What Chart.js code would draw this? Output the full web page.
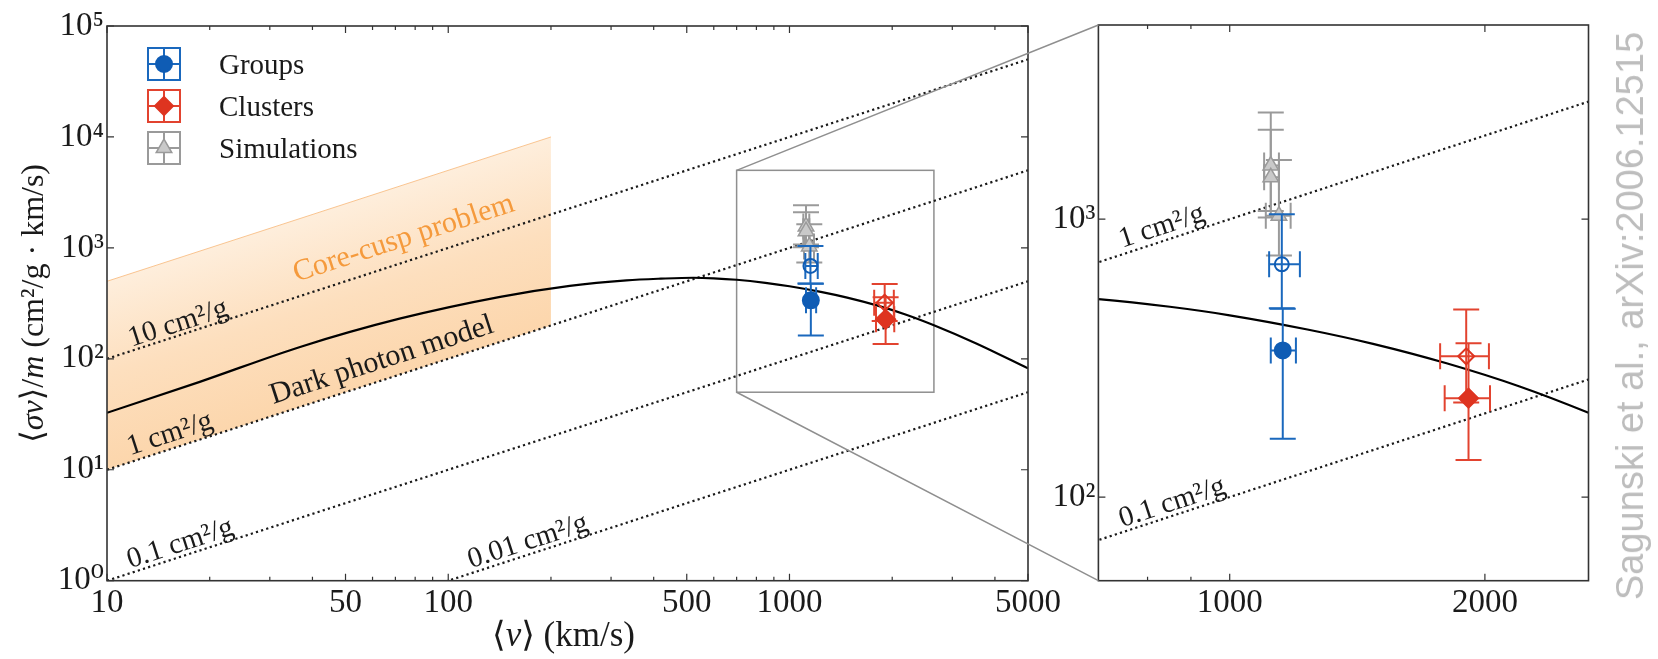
<!DOCTYPE html>
<html lang="en">
<head>
<meta charset="utf-8">
<title>Velocity-dependent self-interaction cross section</title>
<script src="https://cdn.jsdelivr.net/npm/chart.js@4.4.1/dist/chart.umd.min.js"></script>
<style>
  html, body { margin: 0; padding: 0; background: #fff; }
  body { position: relative; width: 1658px; height: 659px; overflow: hidden; }
  .panel { position: absolute; top: 0; }
  .panel canvas { display: block; }
  #leftPanel { left: 0; }
  #rightPanel { left: 1040px; }
  #links { position: absolute; left: 0; top: 0; pointer-events: none; }
  #credit {
    position: absolute; left: 1630px; top: 316px;
    transform: translate(-50%, -50%) rotate(-90deg);
    font: 38px 'Liberation Sans', Arial, sans-serif; line-height: 1;
    color: #bdbdbd; white-space: nowrap;
  }
</style>
</head>
<body>
<div class="panel" id="leftPanel"><canvas id="leftChart" width="1075" height="659"></canvas></div>
<div class="panel" id="rightPanel"><canvas id="rightChart" width="560" height="659"></canvas></div>
<canvas id="links" width="1658" height="659"></canvas>
<div id="credit">Sagunski et al., arXiv:2006.12515</div>
<script>
const SERIF = "'Liberation Serif', 'DejaVu Serif', serif";
const INK = '#1a1a1a';
const BLUE = '#0f5cb4';
const BLUE_BAR = '#1a68bd';
const RED = '#de3420';
const RED_BAR = '#e2432f';
const GREY = '#9a9a9a';
const GREY_FILL = '#c9c9c9';
const ORANGE = '#f59a3c';

// dark photon model, <sigma v>/m against <v>
const modelV = [10, 18.7, 36.8, 72, 142, 227, 333, 420, 523, 600, 700, 850, 1000, 1235, 1476, 1802, 2198, 2650, 3540, 5000];
const modelSigmaV = [32.6, 62, 128, 230, 362, 455, 510, 528, 538, 532, 516, 484, 451, 401, 356, 303, 250, 201, 137, 82];

// lines of constant sigma/m, end points at v = 10 and 5000 km/s
const refV = [10, 5000];
const ref10 = [100, 50000];
const ref1 = [10, 5000];
const ref01 = [1, 500];
const ref001 = [0.1, 50];

// core-cusp band
const bandV = [10, 200];
const bandTop = [500, 10000];
const bandBottom = [10, 200];

// groups
const groupV = [1155, 1152];
const groupSigmaV = [337, 688];
const groupVLow = [1118, 1113];
const groupVHigh = [1197, 1210];
const groupSigmaLow = [162, 478];
const groupSigmaHigh = [476, 1042];
const groupOpen = [false, true];

// clusters
const clusterV = [1913, 1901];
const clusterSigmaV = [227, 321];
const clusterVLow = [1793, 1771];
const clusterVHigh = [2028, 2022];
const clusterSigmaLow = [136, 219];
const clusterSigmaHigh = [358, 473];
const clusterOpen = [false, true];

// simulations
const simV = [1118, 1118, 1143];
const simSigmaV = [1560, 1415, 1030];
const simVLow = [1098, 1098, 1103];
const simVHigh = [1143, 1143, 1180];
const simSigmaLow = [1015, 1070, 740];
const simSigmaHigh = [2420, 2100, 1634];

// axes
const leftVRange = [10, 5000];
const leftSigmaRange = [1, 100000];
const zoomVRange = [700, 2650];
const zoomSigmaRange = [50, 5000];
const leftVLabels = [10, 50, 100, 500, 1000, 5000];
const leftVMinor = [20, 30, 40, 60, 70, 80, 90, 200, 300, 400, 600, 700, 800, 900, 2000, 3000, 4000];
const leftSigmaLabels = [1, 10, 100, 1000, 10000, 100000];
const zoomVLabels = [1000, 2000];
const zoomVMinor = [800, 900];
const zoomSigmaLabels = [100, 1000];

const SUP = ['⁰', '¹', '²', '³', '⁴', '⁵', '⁶'];
const pow10 = v => '10' + SUP[Math.round(Math.log10(v))];

function points(xs, ys) {
  return xs.map((x, i) => ({ x: x, y: ys[i] }));
}
function errPoints(xs, ys, xl, xh, yl, yh) {
  return xs.map((x, i) => ({ x: x, y: ys[i], xMin: xl[i], xMax: xh[i], yMin: yl[i], yMax: yh[i] }));
}

// band colour runs across the band, from the 1 cm2/g edge to the upper edge
function bandFill(c) {
  const chart = c.chart;
  if (!chart.chartArea || !chart.scales.x) return 'rgba(253,218,176,1)';
  const xs = chart.scales.x, ys = chart.scales.y;
  const x0 = xs.getPixelForValue(bandV[0]), y0 = ys.getPixelForValue(bandBottom[0]);
  const x1 = xs.getPixelForValue(bandV[1]), y1 = ys.getPixelForValue(bandBottom[1]);
  const L = Math.hypot(x1 - x0, y1 - y0);
  const nx = (y1 - y0) / L, ny = -(x1 - x0) / L;
  const d = (y0 - ys.getPixelForValue(bandTop[0])) * (x1 - x0) / L;
  const g = chart.ctx.createLinearGradient(x0, y0, x0 + nx * d, y0 + ny * d);
  g.addColorStop(0, 'rgb(252,214,172)');
  g.addColorStop(0.5, 'rgb(253,223,190)');
  g.addColorStop(1, 'rgb(254,238,220)');
  return g;
}

function makeDatasets(withBand) {
  const dotted = { showLine: true, borderColor: INK, borderWidth: 2.2, borderDash: [2.2, 3.2], pointRadius: 0 };
  const sets = [
    { label: 'Groups', data: errPoints(groupV, groupSigmaV, groupVLow, groupVHigh, groupSigmaLow, groupSigmaHigh),
      pointStyle: 'circle', pointRadius: groupOpen.map(o => o ? 7 : 8), pointBorderWidth: 2,
      pointBackgroundColor: groupOpen.map(o => o ? 'rgba(0,0,0,0)' : BLUE), pointBorderColor: BLUE,
      barColor: BLUE_BAR, legendFill: BLUE, legendRadius: 8 },
    { label: 'Clusters', data: errPoints(clusterV, clusterSigmaV, clusterVLow, clusterVHigh, clusterSigmaLow, clusterSigmaHigh),
      pointStyle: 'rectRot', pointRadius: clusterOpen.map(o => o ? 8 : 9.5), pointBorderWidth: 2,
      pointBackgroundColor: clusterOpen.map(o => o ? 'rgba(0,0,0,0)' : RED), pointBorderColor: RED,
      barColor: RED_BAR, legendFill: RED, legendRadius: 9 },
    { label: 'Simulations', data: errPoints(simV, simSigmaV, simVLow, simVHigh, simSigmaLow, simSigmaHigh),
      pointStyle: 'triangle', pointRadius: 9, pointBorderWidth: 1.5,
      pointBackgroundColor: GREY_FILL, pointBorderColor: GREY,
      barColor: GREY, legendFill: GREY_FILL, legendRadius: 9 },
    { label: 'Dark photon model', data: points(modelV, modelSigmaV), showLine: true, borderColor: '#000',
      borderWidth: 2.2, pointRadius: 0, cubicInterpolationMode: 'monotone' },
    Object.assign({ label: '10 cm²/g', data: points(refV, ref10) }, dotted),
    Object.assign({ label: '1 cm²/g', data: points(refV, ref1) }, dotted),
    Object.assign({ label: '0.1 cm²/g', data: points(refV, ref01) }, dotted),
    Object.assign({ label: '0.01 cm²/g', data: points(refV, ref001) }, dotted)
  ];
  if (withBand) {
    sets.push({ label: 'Core-cusp problem', data: points(bandV, bandTop), showLine: true,
      borderColor: 'rgba(246,175,105,0.7)', borderWidth: 1, pointRadius: 0, fill: '+1', backgroundColor: bandFill });
    sets.push({ label: 'band floor', data: points(bandV, bandBottom), showLine: true,
      borderWidth: 0, borderColor: 'rgba(0,0,0,0)', pointRadius: 0, fill: false });
  }
  return sets;
}

// error bars go in just before their markers
const errorBars = {
  id: 'errorBars',
  beforeDatasetDraw(chart, args) {
    const ds = chart.data.datasets[args.index];
    if (!ds.barColor) return;
    const { ctx, chartArea: a } = chart;
    const xs = chart.scales.x, ys = chart.scales.y;
    const cap = 13;
    ctx.save();
    ctx.beginPath();
    ctx.rect(a.left, a.top, a.right - a.left, a.bottom - a.top);
    ctx.clip();
    ctx.strokeStyle = ds.barColor;
    ctx.lineWidth = 2;
    ds.data.forEach(p => {
      const x = xs.getPixelForValue(p.x), y = ys.getPixelForValue(p.y);
      const x0 = xs.getPixelForValue(p.xMin), x1 = xs.getPixelForValue(p.xMax);
      const y0 = ys.getPixelForValue(p.yMin), y1 = ys.getPixelForValue(p.yMax);
      ctx.beginPath();
      ctx.moveTo(x0, y); ctx.lineTo(x1, y);
      ctx.moveTo(x, y0); ctx.lineTo(x, y1);
      ctx.moveTo(x0, y - cap); ctx.lineTo(x0, y + cap);
      ctx.moveTo(x1, y - cap); ctx.lineTo(x1, y + cap);
      ctx.moveTo(x - cap, y0); ctx.lineTo(x + cap, y0);
      ctx.moveTo(x - cap, y1); ctx.lineTo(x + cap, y1);
      ctx.stroke();
    });
    ctx.restore();
  }
};

// box round the plot with inward ticks on all four sides
const frame = {
  id: 'frame',
  afterDatasetsDraw(chart) {
    const { ctx, chartArea: a } = chart;
    const xs = chart.scales.x, ys = chart.scales.y;
    ctx.save();
    ctx.strokeStyle = '#333';
    ctx.lineWidth = 1.2;
    ctx.beginPath();
    xs.ticks.forEach(t => {
      const px = xs.getPixelForValue(t.value);
      const len = t.label ? 7 : 4;
      ctx.moveTo(px, a.bottom); ctx.lineTo(px, a.bottom - len);
      ctx.moveTo(px, a.top); ctx.lineTo(px, a.top + len);
    });
    ys.ticks.forEach(t => {
      const py = ys.getPixelForValue(t.value);
      const len = t.label ? 7 : 4;
      ctx.moveTo(a.left, py); ctx.lineTo(a.left + len, py);
      ctx.moveTo(a.right, py); ctx.lineTo(a.right - len, py);
    });
    ctx.stroke();
    ctx.lineWidth = 1.6;
    ctx.strokeRect(a.left, a.top, a.right - a.left, a.bottom - a.top);
    ctx.restore();
  }
};

function richText(ctx, parts, x, y, size) {
  const fonts = parts.map(p => (p[1] ? 'italic ' : '') + size + 'px ' + SERIF);
  let w = 0;
  parts.forEach((p, i) => { ctx.font = fonts[i]; w += ctx.measureText(p[0]).width; });
  let cx = x - w / 2;
  parts.forEach((p, i) => { ctx.font = fonts[i]; ctx.fillText(p[0], cx, y); cx += ctx.measureText(p[0]).width; });
}

// slanted labels sitting on the constant sigma/m lines
const notes = {
  id: 'notes',
  afterDatasetsDraw(chart, args, opts) {
    const { ctx } = chart;
    const xs = chart.scales.x, ys = chart.scales.y;
    const p1x = xs.getPixelForValue(1000), p1y = ys.getPixelForValue(1000);
    const p2x = xs.getPixelForValue(2000), p2y = ys.getPixelForValue(2000);
    const ang = Math.atan2(p2y - p1y, p2x - p1x);
    (opts.items || []).forEach(n => {
      ctx.save();
      ctx.translate(xs.getPixelForValue(n.v), ys.getPixelForValue(n.s) - n.lift);
      ctx.rotate(ang);
      ctx.font = (n.size || 29) + 'px ' + SERIF;
      ctx.fillStyle = n.color || INK;
      ctx.textAlign = 'left';
      ctx.textBaseline = 'alphabetic';
      ctx.fillText(n.text, 0, 0);
      ctx.restore();
    });
  }
};

const legendBox = {
  id: 'legendBox',
  afterDraw(chart, args, opts) {
    const { ctx, chartArea: a } = chart;
    const half = 16;
    [0, 1, 2].forEach(i => {
      const ds = chart.data.datasets[i];
      const cx = a.left + opts.dx, cy = a.top + opts.dy + i * opts.step;
      ctx.save();
      ctx.strokeStyle = ds.barColor;
      ctx.lineWidth = 2;
      ctx.beginPath();
      ctx.moveTo(cx - half, cy); ctx.lineTo(cx + half, cy);
      ctx.moveTo(cx, cy - half); ctx.lineTo(cx, cy + half);
      ctx.rect(cx - half, cy - half, 2 * half, 2 * half);
      ctx.stroke();
      ctx.fillStyle = ds.legendFill;
      ctx.strokeStyle = ds.pointBorderColor;
      ctx.lineWidth = ds.pointStyle === 'triangle' ? 1.5 : 0;
      Chart.helpers.drawPoint(ctx, { pointStyle: ds.pointStyle, radius: ds.legendRadius, borderWidth: ctx.lineWidth, rotation: 0 }, cx, cy);
      ctx.fillStyle = INK;
      ctx.font = '29px ' + SERIF;
      ctx.textBaseline = 'middle';
      ctx.textAlign = 'left';
      ctx.fillText(ds.label, cx + opts.textGap, cy + 2);
      ctx.restore();
    });
  }
};

const axisTitles = {
  id: 'axisTitles',
  afterDraw(chart) {
    const { ctx, chartArea: a } = chart;
    ctx.save();
    ctx.fillStyle = INK;
    ctx.textBaseline = 'middle';
    richText(ctx, [['⟨', 0], ['v', 1], ['⟩ (km/s)', 0]], (a.left + a.right) / 2 - 4, a.bottom + 56, 35);
    ctx.translate(a.left - 72, (a.top + a.bottom) / 2);
    ctx.rotate(-Math.PI / 2);
    richText(ctx, [['⟨', 0], ['σv', 1], ['⟩/', 0], ['m', 1], [' (cm²/g · km/s)', 0]], 0, 0, 32);
    ctx.restore();
  }
};

// outline of the zoomed region on the main panel
const zoomBox = {
  id: 'zoomBox',
  beforeDatasetsDraw(chart) {
    const { ctx } = chart;
    const xs = chart.scales.x, ys = chart.scales.y;
    const x0 = xs.getPixelForValue(zoomVRange[0]), x1 = xs.getPixelForValue(zoomVRange[1]);
    const y0 = ys.getPixelForValue(zoomSigmaRange[1]), y1 = ys.getPixelForValue(zoomSigmaRange[0]);
    ctx.save();
    ctx.strokeStyle = '#8f8f8f';
    ctx.lineWidth = 1.5;
    ctx.strokeRect(x0, y0, x1 - x0, y1 - y0);
    ctx.restore();
  }
};

function logAxis(range, labels, minor, fmt, extra) {
  const all = labels.concat(minor).sort((p, q) => p - q);
  return Object.assign({
    type: 'logarithmic',
    min: range[0],
    max: range[1],
    afterBuildTicks: s => { s.ticks = all.map(v => ({ value: v })); },
    grid: { display: false, drawTicks: false },
    border: { display: false },
    ticks: {
      autoSkip: false, maxRotation: 0, minRotation: 0,
      color: INK, font: { family: SERIF, size: 33 },
      callback: v => labels.includes(v) ? fmt(v) : ''
    }
  }, extra);
}

const leftChart = new Chart(document.getElementById('leftChart'), {
  type: 'scatter',
  data: { datasets: makeDatasets(true) },
  plugins: [errorBars, frame, notes, legendBox, axisTitles, zoomBox],
  options: {
    responsive: false,
    animation: false,
    layout: { padding: { top: 26, right: 47, left: 0, bottom: 0 } },
    scales: {
      x: logAxis(leftVRange, leftVLabels, leftVMinor, v => String(v), { afterFit: s => { s.height = 78.3; } }),
      y: logAxis(leftSigmaRange, leftSigmaLabels, [], pow10, { afterFit: s => { s.width = 107; } })
    },
    plugins: {
      legend: { display: false },
      tooltip: { enabled: false },
      legendBox: { dx: 57, dy: 38, step: 42, textGap: 55 },
      notes: { items: [
        { text: '10 cm²/g', v: 11.8, s: 118, lift: 4 },
        { text: '1 cm²/g', v: 11.7, s: 11.7, lift: 7 },
        { text: '0.1 cm²/g', v: 11.7, s: 1.17, lift: 5 },
        { text: '0.01 cm²/g', v: 116.6, s: 1.166, lift: 5 },
        { text: 'Dark photon model', v: 30.7, s: 30.7, lift: 11.6, size: 30 },
        { text: 'Core-cusp problem', v: 35.9, s: 359, lift: 15.4, color: ORANGE, size: 30 }
      ] }
    }
  }
});

const rightChart = new Chart(document.getElementById('rightChart'), {
  type: 'scatter',
  data: { datasets: makeDatasets(false) },
  plugins: [errorBars, frame, notes],
  options: {
    responsive: false,
    animation: false,
    layout: { padding: { top: 25, right: 7.6, left: 0, bottom: 0 } },
    scales: {
      x: logAxis(zoomVRange, zoomVLabels, zoomVMinor, v => String(v), { afterFit: s => { s.height = 78.3; } }),
      y: logAxis(zoomSigmaRange, zoomSigmaLabels, [], pow10, { afterFit: s => { s.width = 58.4; } })
    },
    plugins: {
      legend: { display: false },
      tooltip: { enabled: false },
      notes: { items: [
        { text: '1 cm²/g', v: 747, s: 747, lift: 6.7 },
        { text: '0.1 cm²/g', v: 747, s: 74.7, lift: 5 }
      ] }
    }
  }
});

// connector lines from the zoom box to the inset panel
(function drawLinks() {
  const ctx = document.getElementById('links').getContext('2d');
  const lOff = document.getElementById('leftPanel').offsetLeft;
  const rOff = document.getElementById('rightPanel').offsetLeft;
  const xs = leftChart.scales.x, ys = leftChart.scales.y;
  const bx = lOff + xs.getPixelForValue(zoomVRange[0]);
  const byTop = ys.getPixelForValue(zoomSigmaRange[1]);
  const byBot = ys.getPixelForValue(zoomSigmaRange[0]);
  const ra = rightChart.chartArea;
  ctx.strokeStyle = '#8f8f8f';
  ctx.lineWidth = 1.5;
  ctx.beginPath();
  ctx.moveTo(bx, byTop); ctx.lineTo(rOff + ra.left, ra.top);
  ctx.moveTo(bx, byBot); ctx.lineTo(rOff + ra.left, ra.bottom);
  ctx.stroke();
})();
</script>
</body>
</html>
